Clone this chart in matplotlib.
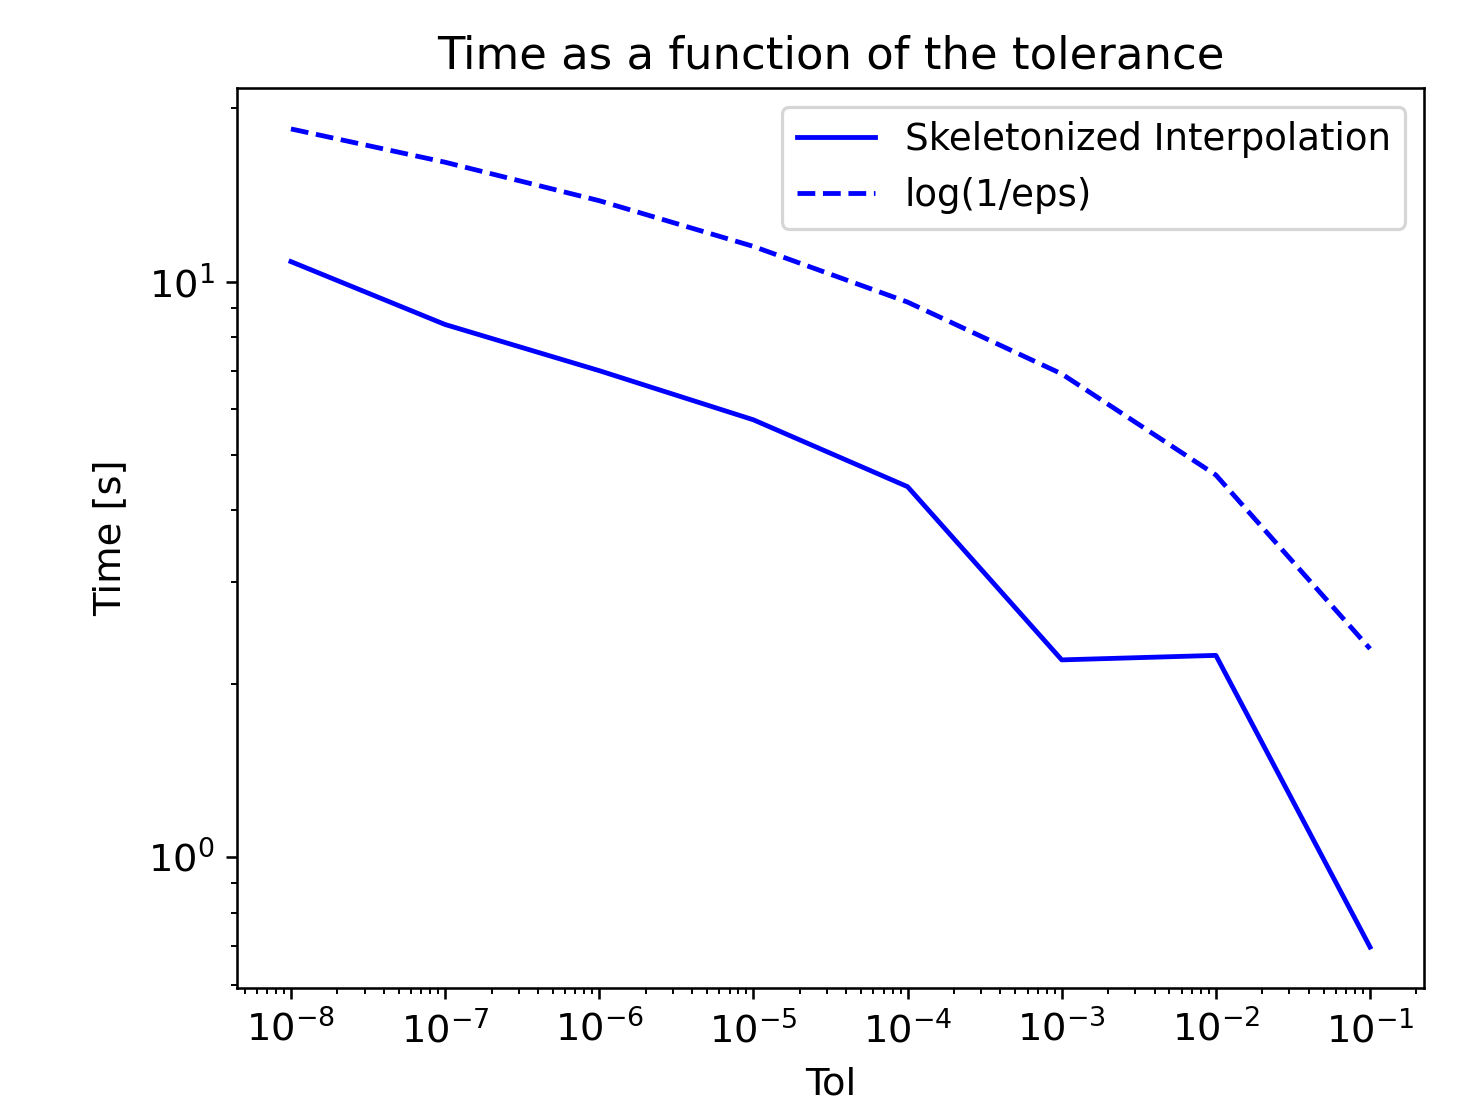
import numpy as np
from matplotlib import pyplot as plt

# Tolerances and measured times
tol = [1e-8, 1e-7, 1e-6, 1e-5, 1e-4, 1e-3, 1e-2, 1e-1]
t_skel = [10.83, 8.42, 7.0, 5.75, 4.40, 2.20, 2.24, 0.697]
t_ref = [18.42, 16.12, 13.82, 11.51, 9.21, 6.91, 4.61, 2.30]

plt.rcParams['font.size'] = 12

fig = plt.figure(figsize=(6.4, 4.8), dpi=230.625)
ax = fig.add_axes([237/1476, 1 - 988/1107, (1424 - 237)/1476, (988 - 88)/1107])

ax.loglog(tol, t_skel, 'b-', label="Skeletonized Interpolation")
ax.loglog(tol, t_ref, 'b--', label="log(1/eps)")

ax.set_title("Time as a function of the tolerance", fontsize=14)
ax.set_xlabel("Tol", labelpad=5)
ax.set_ylabel("Time [s]", labelpad=6)
ax.legend(loc='upper right', fontsize=11.6, handlelength=2.1)

fig.savefig("out.png", dpi=230.625)
